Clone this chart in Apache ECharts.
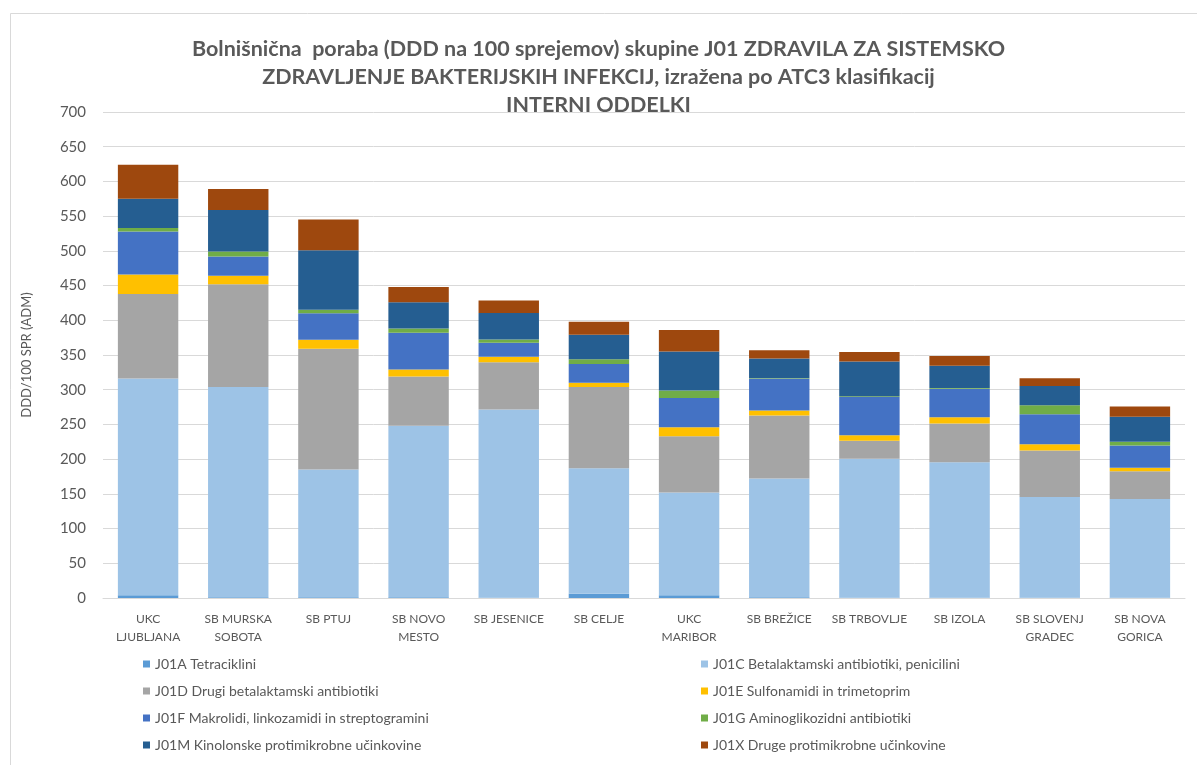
<!DOCTYPE html>
<html>
<head>
<meta charset="utf-8">
<script src="https://cdn.jsdelivr.net/npm/echarts@6/dist/echarts.min.js"></script>
<style>html,body{margin:0;padding:0;background:#fff}#c{width:1197px;height:765px}</style>
</head>
<body>
<div id="c"></div>
<script>
const categories = ["UKC\nLJUBLJANA","SB MURSKA\nSOBOTA","SB PTUJ","SB NOVO\nMESTO","SB JESENICE","SB CELJE","UKC\nMARIBOR","SB BREŽICE","SB TRBOVLJE","SB IZOLA","SB SLOVENJ\nGRADEC","SB NOVA\nGORICA"];
const seriesNames = ["J01A Tetraciklini","J01C Betalaktamski antibiotiki, penicilini","J01D Drugi betalaktamski antibiotiki","J01E Sulfonamidi in trimetoprim","J01F Makrolidi, linkozamidi in streptogramini","J01G Aminoglikozidni antibiotiki","J01M Kinolonske protimikrobne učinkovine","J01X Druge protimikrobne učinkovine"];
const J01A = [4, 1, 1, 1, 0.5, 6, 4, 1, 0.5, 0.5, 0.5, 0.5];
const J01C = [312, 303, 184, 247, 271, 181, 148, 171, 200, 195, 145, 142];
const J01D = [122, 148, 174, 71, 68, 117, 81, 91, 26, 56, 67, 40];
const J01E = [28, 12, 13, 10, 8, 6, 13, 7, 8, 9, 9, 5];
const J01F = [62, 28, 38, 53, 20, 27, 42, 46, 55, 41, 43, 32];
const J01G = [5, 7, 5, 6, 5, 7, 11, 1, 1, 1, 13, 5.5];
const J01M = [42, 60, 86, 38, 38, 35, 56, 28, 50, 32, 28, 36];
const J01X = [49, 30, 44, 22, 18, 19, 31, 12, 14, 14, 11, 15];
const yTicks = [0,50,100,150,200,250,300,350,400,450,500,550,600,650,700];
const title = "Bolnišnična  poraba (DDD na 100 sprejemov) skupine J01 ZDRAVILA ZA SISTEMSKO\nZDRAVLJENJE BAKTERIJSKIH INFEKCIJ, izražena po ATC3 klasifikacij\nINTERNI ODDELKI";
const yName = "DDD/100 SPR (ADM)";

const colors = ["#5B9BD5","#9DC3E6","#A5A5A5","#FFC000","#4472C4","#70AD47","#255E91","#9E480E"];
const values = [J01A,J01C,J01D,J01E,J01F,J01G,J01M,J01X];
const FONT = "Lato, 'Open Sans', sans-serif";
const txt = "#595959";

const chart = echarts.init(document.getElementById('c'), null, {renderer:'canvas'});
chart.setOption({
  animation:false,
  backgroundColor:'#fff',
  textStyle:{fontFamily:FONT},
  graphic:[{type:'rect', shape:{x:10.5,y:13.5,width:1400,height:1000}, style:{fill:'none',stroke:'#D9D9D9',lineWidth:1}, silent:true}],
  title:{text:title,left:'center',top:30,textStyle:{fontFamily:FONT,fontSize:21.5,fontWeight:'bold',color:txt,lineHeight:28}},
  grid:{left:103,right:12,top:112,bottom:167},
  legend:[
    {orient:'vertical',left:138,top:652,itemWidth:7,itemHeight:7,icon:'rect',itemGap:13,textStyle:{fontFamily:FONT,fontSize:14,color:txt},data:[seriesNames[0],seriesNames[2],seriesNames[4],seriesNames[6]]},
    {orient:'vertical',left:696,top:652,itemWidth:7,itemHeight:7,icon:'rect',itemGap:13,textStyle:{fontFamily:FONT,fontSize:14,color:txt},data:[seriesNames[1],seriesNames[3],seriesNames[5],seriesNames[7]]}
  ],
  xAxis:{type:'category',data:categories,axisTick:{show:false},axisLine:{lineStyle:{color:'#D9D9D9'}},
    axisLabel:{interval:0,color:txt,fontFamily:FONT,fontSize:12,lineHeight:18,margin:12}},
  yAxis:{type:'value',min:yTicks[0],max:yTicks[yTicks.length-1],interval:50,
    name:yName,nameLocation:'middle',nameRotate:90,nameGap:70,nameTextStyle:{color:txt,fontFamily:FONT,fontSize:13},
    axisLine:{show:false},axisTick:{show:false},
    axisLabel:{color:txt,fontFamily:FONT,fontSize:15,margin:17},
    splitLine:{lineStyle:{color:'#D9D9D9'}}},
  series:seriesNames.map((n,i)=>({name:n,type:'bar',stack:'t',data:values[i],barCategoryGap:'33%',itemStyle:{color:colors[i]}}))
});
</script>
</body>
</html>
